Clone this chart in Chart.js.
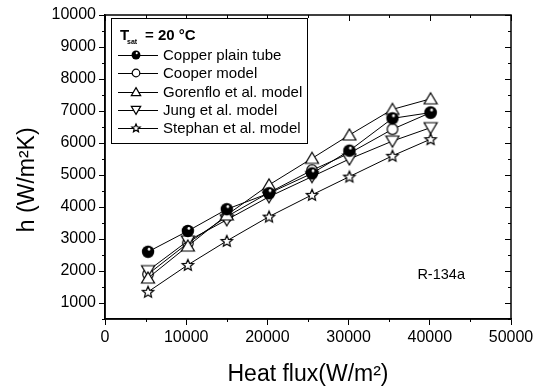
<!DOCTYPE html>
<html>
<head>
<meta charset="utf-8">
<script src="https://cdn.jsdelivr.net/npm/chart.js@4.4.1/dist/chart.umd.min.js"></script>
<style>
  html, body { margin: 0; padding: 0; background: #fff; }
</style>
</head>
<body>
<canvas id="myChart" width="543" height="389"></canvas>
<script>
// values
const heatFlux = [5300, 10200, 15000, 20200, 25500, 30100, 35400, 40100];
const copperTube = [2600, 3250, 3930, 4430, 5050, 5760, 6770, 6950];
const cooperModel = [1900, 2870, 3700, 4450, 5150, 5680, 6430, 6950];
const gorenfloModel = [1780, 2780, 3750, 4690, 5520, 6250, 7050, 7380];
const jungModel = [2010, 2940, 3600, 4320, 4950, 5500, 6060, 6480];
const stephanModel = [1350, 2190, 2940, 3700, 4380, 4950, 5600, 6120];

const seriesNames = ['Copper plain tube', 'Cooper model', 'Gorenflo et al. model', 'Jung et al. model', 'Stephan et al. model'];
const xTicks = [0, 10000, 20000, 30000, 40000, 50000];
const yTicks = [1000, 2000, 3000, 4000, 5000, 6000, 7000, 8000, 9000, 10000];

const FONT = "'Liberation Sans', Arial, Helvetica, sans-serif";

// little canvases used as point symbols
function makeMarker(kind, s) {
  const size = Math.round(16 * s);
  const c = document.createElement('canvas');
  c.width = size; c.height = size;
  const g = c.getContext('2d');
  const m = size / 2;
  g.lineWidth = 1.2;
  g.strokeStyle = '#000';
  g.fillStyle = '#fff';
  g.beginPath();
  if (kind === 'ball') {
    g.arc(m, m, 6.2 * s, 0, Math.PI * 2);
    g.fillStyle = '#000';
    g.fill();
    g.beginPath();
    g.arc(m + 1 * s, m - 2.6 * s, 1.4 * s, 0, Math.PI * 2);
    g.fillStyle = '#fff';
    g.fill();
    return c;
  }
  if (kind === 'circle') {
    g.arc(m, m, 5.3 * s, 0, Math.PI * 2);
  } else if (kind === 'up') {
    g.moveTo(m, m - 6 * s);
    g.lineTo(m + 6.5 * s, m + 5 * s);
    g.lineTo(m - 6.5 * s, m + 5 * s);
    g.closePath();
  } else if (kind === 'down') {
    g.moveTo(m, m + 6 * s);
    g.lineTo(m + 6.5 * s, m - 5 * s);
    g.lineTo(m - 6.5 * s, m - 5 * s);
    g.closePath();
  } else if (kind === 'star') {
    for (let i = 0; i < 10; i++) {
      const r = (i % 2 === 0 ? 6 : 2.7) * s;
      const a = -Math.PI / 2 + i * Math.PI / 5;
      const px = m + r * Math.cos(a), py = m + 0.5 * s + r * Math.sin(a);
      if (i === 0) g.moveTo(px, py); else g.lineTo(px, py);
    }
    g.closePath();
  }
  g.fill();
  g.stroke();
  return c;
}

const markerKinds = ['ball', 'circle', 'up', 'down', 'star'];
const plotMarkers = markerKinds.map(k => makeMarker(k, 1));
const legendMarkers = markerKinds.map(k => makeMarker(k, 0.72));

const allSeries = [copperTube, cooperModel, gorenfloModel, jungModel, stephanModel];
// cooper circles sit underneath the triangles
const drawOrder = [0, 1, 0, 0, 0];

const datasets = allSeries.map((vals, i) => ({
  label: seriesNames[i],
  data: heatFlux.map((x, j) => ({ x: x, y: vals[j] })),
  order: drawOrder[i],
  showLine: true,
  borderColor: '#000',
  borderWidth: 1,
  pointStyle: plotMarkers[i],
  pointRadius: 6,
  backgroundColor: '#fff',
}));

// frame, minor ticks, inner legend box and the R-134a note
const decorations = {
  id: 'decorations',
  afterDatasetsDraw(chart) {
    const ctx = chart.ctx;
    const a = chart.chartArea;
    const xs = chart.scales.x, ys = chart.scales.y;
    ctx.save();
    ctx.strokeStyle = '#000';
    ctx.lineWidth = 1.5;
    ctx.strokeRect(a.left, a.top, a.right - a.left, a.bottom - a.top);

    ctx.lineWidth = 1;
    ctx.beginPath();
    for (let v = 0; v <= 50000; v += 5000) {
      const px = Math.round(xs.getPixelForValue(v)) + 0.5;
      const major = v % 10000 === 0;
      ctx.moveTo(px, a.top);
      ctx.lineTo(px, a.top + (major ? 6 : 3));
      if (!major) {
        ctx.moveTo(px, a.bottom);
        ctx.lineTo(px, a.bottom + 3);
      }
    }
    for (let v = 500; v <= 10000; v += 500) {
      const py = Math.round(ys.getPixelForValue(v)) + 0.5;
      const major = v % 1000 === 0;
      ctx.moveTo(a.right, py);
      ctx.lineTo(a.right - (major ? 6 : 3), py);
      if (!major) {
        ctx.moveTo(a.left, py);
        ctx.lineTo(a.left - 3, py);
      }
    }
    ctx.stroke();

    // legend inside the plot
    const bx = a.left + 6, by = a.top + 3, bw = 196, bh = 125;
    ctx.fillStyle = '#fff';
    ctx.fillRect(bx, by, bw, bh);
    ctx.lineWidth = 1;
    ctx.strokeRect(bx + 0.5, by + 0.5, bw, bh);

    ctx.fillStyle = '#000';
    ctx.textBaseline = 'alphabetic';
    ctx.textAlign = 'left';
    ctx.font = 'bold 15px ' + FONT;
    ctx.fillText('T', bx + 9, by + 22);
    ctx.font = 'bold 7px ' + FONT;
    ctx.fillText('sat', bx + 16, by + 26);
    ctx.font = 'bold 15px ' + FONT;
    ctx.fillText('= 20 \u00B0C', bx + 34, by + 22);

    ctx.font = '15px ' + FONT;
    ctx.textBaseline = 'middle';
    seriesNames.forEach((name, i) => {
      const ly = by + 37 + i * 18.3;
      ctx.beginPath();
      ctx.moveTo(bx + 7, Math.round(ly) + 0.5);
      ctx.lineTo(bx + 47, Math.round(ly) + 0.5);
      ctx.stroke();
      const mk = legendMarkers[i];
      ctx.drawImage(mk, Math.round(bx + 25 - mk.width / 2), Math.round(ly - mk.height / 2));
      ctx.fillText(name, bx + 52, ly + 1);
    });

    ctx.font = '14.5px ' + FONT;
    ctx.textAlign = 'center';
    ctx.fillText('R-134a', xs.getPixelForValue(41400), ys.getPixelForValue(1870));
    ctx.restore();
  }
};

const config = {
  type: 'scatter',
  data: { datasets },
  options: {
    responsive: false,
    animation: false,
    layout: { padding: { left: 3, top: 15, right: 32, bottom: 0 } },
    plugins: {
      legend: { display: false },
      tooltip: { enabled: false },
    },
    scales: {
      x: {
        type: 'linear',
        min: 0,
        max: 50000,
        afterBuildTicks: (scale) => { scale.ticks = xTicks.map(v => ({ value: v })); },
        afterFit: (scale) => { scale.height = 70; },
        grid: { drawOnChartArea: false, drawTicks: true, tickLength: 6, color: '#000' },
        border: { display: true, color: '#000', width: 1.5 },
        ticks: {
          color: '#000',
          font: { family: FONT, size: 16 },
          padding: 3,
          maxRotation: 0,
          callback: (v) => String(v),
        },
        title: {
          display: true,
          text: 'Heat flux(W/m\u00B2)',
          color: '#000',
          font: { family: FONT, size: 23 },
          padding: { top: 0, bottom: 1 },
        },
      },
      y: {
        type: 'linear',
        min: 500,
        max: 10000,
        afterBuildTicks: (scale) => { scale.ticks = yTicks.map(v => ({ value: v })); },
        afterFit: (scale) => { scale.width = 102; },
        grid: { drawOnChartArea: false, drawTicks: true, tickLength: 6, color: '#000' },
        border: { display: true, color: '#000', width: 1.5 },
        ticks: {
          color: '#000',
          font: { family: FONT, size: 16 },
          padding: 3,
          callback: (v) => String(v),
        },
        title: {
          display: true,
          text: 'h (W/m\u00B2K)    ',
          color: '#000',
          font: { family: FONT, size: 23 },
          padding: { top: 11, bottom: 0 },
        },
      },
    },
  },
  plugins: [decorations],
};

const myChart = new Chart(document.getElementById('myChart').getContext('2d'), config);
</script>
</body>
</html>
